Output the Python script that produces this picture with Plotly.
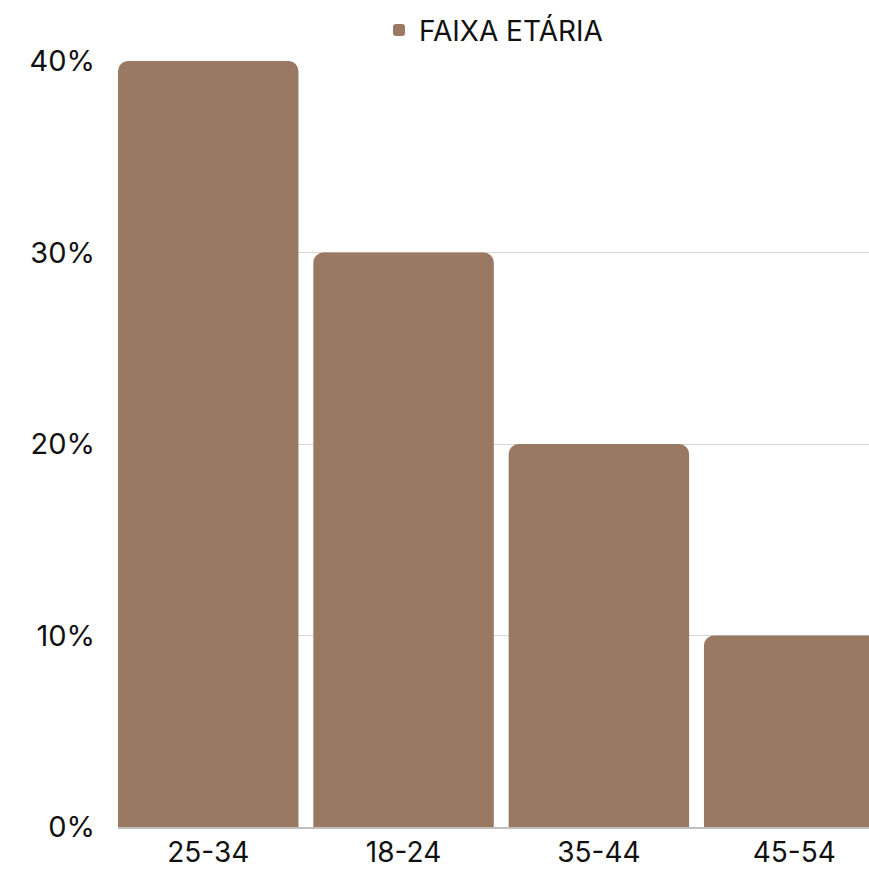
import plotly.graph_objects as go

categories = ["25-34", "18-24", "35-44", "45-54"]
values = [0.40, 0.30, 0.20, 0.10]
series_name = "FAIXA ETÁRIA"
y_ticks = [0, 0.1, 0.2, 0.3, 0.4]
y_tick_labels = ["0%", "10%", "20%", "30%", "40%"]

fig = go.Figure()
fig.add_trace(go.Bar(
    x=categories, y=values, name=series_name,
    marker=dict(color="#9A7962", line=dict(width=0)),
    showlegend=True,
))

fig.update_layout(
    width=869, height=870,
    margin=dict(l=118, r=0, t=60.5, b=43, pad=0, autoexpand=False),
    paper_bgcolor="white", plot_bgcolor="white",
    font=dict(family="Inter, sans-serif", size=29, color="#111111"),
    bargap=0.076,
    barcornerradius=10,
    showlegend=True,
    legend=dict(orientation="h", x=0.5, xanchor="center", y=1.04, yanchor="middle",
                font=dict(size=28, color="#111111"), itemwidth=30, bgcolor="rgba(0,0,0,0)"),
    xaxis=dict(
        type="category", range=[-0.462, 3.383], automargin=False,
        showline=True, linecolor="#bfbfbf", linewidth=1.5,
        showgrid=False, ticks="", tickfont=dict(size=28),
        ticklabelstandoff=0,
    ),
    yaxis=dict(
        range=[0, 0.4], tickvals=y_ticks, ticktext=y_tick_labels, automargin=False,
        showgrid=True, gridcolor="#d6d6d6", gridwidth=1,
        zeroline=False, showline=False, ticks="",
        tickfont=dict(size=29), ticklabelstandoff=22,
    ),
)

fig.write_html("out.html")
